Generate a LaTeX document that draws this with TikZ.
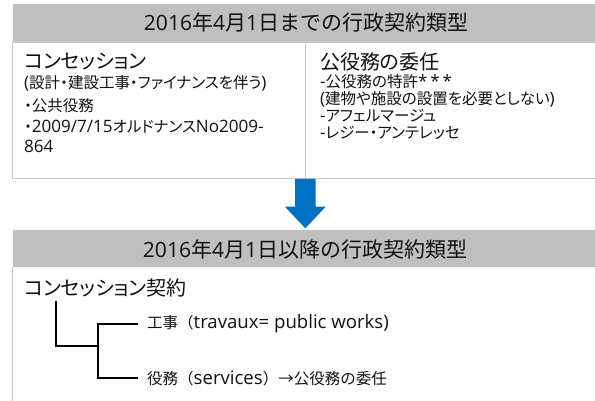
\documentclass[tikz,border=0pt]{standalone}
\usepackage{fontspec}
\setmainfont{Noto Sans CJK JP}[RawFeature=+palt]
\newfontfamily\jpfull{Noto Sans CJK JP}
\newfontfamily\latf{Open Sans}
\newfontfamily\latbf{Open Sans}[Scale=1.1]
\newfontfamily\lattf{Open Sans}[Scale=1.2]
\newcommand{\lat}[1]{{\latf #1}}
\newcommand{\latb}[1]{{\latbf #1}}
\newcommand{\latt}[1]{{\lattf #1}}
\definecolor{hdrgray}{HTML}{BFBFBF}
\definecolor{bordgray}{HTML}{C8C8C8}
\definecolor{arrowblue}{HTML}{0070C0}
\definecolor{txt}{HTML}{111111}
\begin{document}
\begin{tikzpicture}[x=1pt,y=-1pt,
  hdrtxt/.style={inner sep=0pt, text=txt, font=\jpfull\fontsize{21}{25}\selectfont},
  headtxt/.style={anchor=west, inner sep=0pt, text=txt, font=\fontsize{20}{24}\selectfont},
  bodytxt/.style={anchor=west, inner sep=0pt, text=txt, font=\fontsize{15.5}{18}\selectfont},
  treetxt/.style={anchor=west, inner sep=0pt, text=txt, font=\jpfull\fontsize{15.5}{18}\selectfont},
  border/.style={draw=bordgray, line width=1.3pt},
  tree/.style={draw=black, line width=2pt}]
\useasboundingbox (0,0) rectangle (595,401);
\fill[white] (0,0) rectangle (595,401);

% top section
\fill[hdrgray] (12.5,4) rectangle (600,42);
\node[hdrtxt] (h1) at (306,22.5) {\lat{2016}年\lat{4}月\lat{1}日までの行政契約類型};
\draw[border] (600,42) -- (12.5,42) -- (12.5,178.5) -- (600,178.5);
\draw[border] (305.5,42) -- (305.5,178.5);

\node[headtxt] (c1) at (24,62) {コンセッション};
\node[bodytxt] (c2) at (24,83) {\latb{(}設計・建設工事・ファイナンスを伴う\latb{)}};
\node[bodytxt] (c3) at (24,106) {・公共役務};
\node[bodytxt] (c4) at (24,127) {・\latb{2009/7/15}オルドナンス\latb{No2009-}};
\node[bodytxt] (c5) at (24,146) {\latb{864}};

\node[headtxt] (d1) at (320,62) {公役務の委任};
\node[bodytxt] (d2) at (320,82) {\latb{-}公役務の特許\latb{*\,*\,*}};
\node[bodytxt] (d3) at (320,99) {\latb{(}建物や施設の設置を必要としない\latb{)}};
\node[bodytxt] (d4) at (320,116) {\latb{-}アフェルマージュ};
\node[bodytxt] (d5) at (320,133) {\latb{-}レジー・アンテレッセ};

% arrow
\fill[arrowblue] (295,179) -- (315.7,179) -- (315.7,206.7) -- (325.7,206.7)
  -- (305.3,228.3) -- (285,206.7) -- (295,206.7) -- cycle;

% bottom section
\fill[hdrgray] (12.5,230) rectangle (600,267);
\node[hdrtxt] (h2) at (305,250) {\lat{2016}年\lat{4}月\lat{1}日以降の行政契約類型};
\draw[border] (12.5,267) -- (12.5,405);

\node[headtxt] (root) at (24,288) {コンセッション契約};
\node[treetxt] (works) at (147,324) {工事（\latt{travaux= public works)}};
\node[treetxt] (serv) at (147,378) {役務（\latt{services}）→公役務の委任};

\coordinate (r0) at (56,301);
\coordinate (j) at (98,346);
\draw[tree] (r0) |- (j);
\draw[tree] ([xshift=-9pt]works.west) -| (j) |- ([xshift=-9pt]serv.west);
\end{tikzpicture}
\end{document}
